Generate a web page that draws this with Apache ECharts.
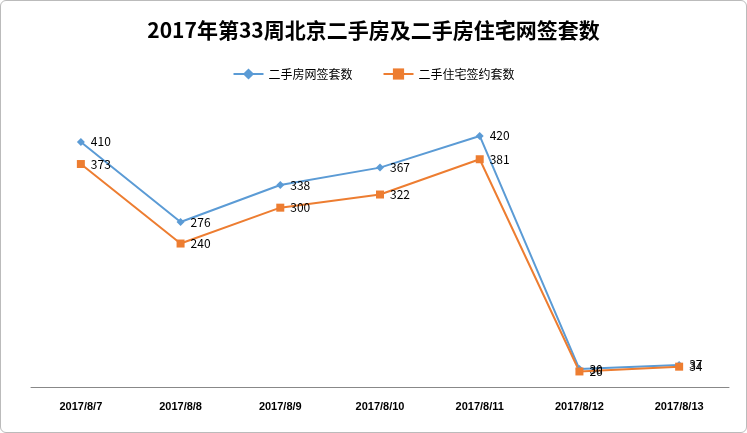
<!DOCTYPE html><html><head><meta charset="utf-8"><script src="https://cdn.jsdelivr.net/npm/echarts@6/dist/echarts.min.js"></script>
<style>body{margin:0;background:#fff}#c{width:745px;height:431px;border:1px solid #bbb;border-radius:6px}</style></head><body><div id="c"></div><script>
const categories=['2017/8/7','2017/8/8','2017/8/9','2017/8/10','2017/8/11','2017/8/12','2017/8/13'];
const netSign=[410,276,338,367,420,30,37];
const resSign=[373,240,300,322,381,26,34];
const ch=echarts.init(document.getElementById('c'));
const lab={show:true,position:'right',distance:6,color:'#000',fontSize:12,fontFamily:'Noto Sans CJK SC'};
ch.setOption({
title:{text:'2017年第33周北京二手房及二手房住宅网签套数',left:'center',top:14,textStyle:{fontSize:21,fontWeight:'bold',color:'#000',fontFamily:'Noto Sans CJK SC'}},
legend:{top:62,left:'center',itemGap:30,itemWidth:30,textStyle:{fontSize:12,color:'#000',fontFamily:'Noto Sans CJK SC'}},
grid:{left:30,right:17,top:117,bottom:45},
xAxis:{type:'category',data:categories,axisLine:{lineStyle:{color:'#888'}},axisTick:{show:false},axisLabel:{color:'#000',fontSize:11,fontWeight:'bold',margin:14}},
yAxis:{type:'value',min:0,max:450,show:false,splitLine:{show:false}},
series:[
{name:'二手房网签套数',type:'line',data:netSign,symbol:'diamond',symbolSize:8,color:'#5b9bd5',lineStyle:{width:2},label:lab},
{name:'二手住宅签约套数',type:'line',data:resSign,symbol:'rect',symbolSize:8,color:'#ed7d31',lineStyle:{width:2},label:lab}
]});
</script></body></html>
